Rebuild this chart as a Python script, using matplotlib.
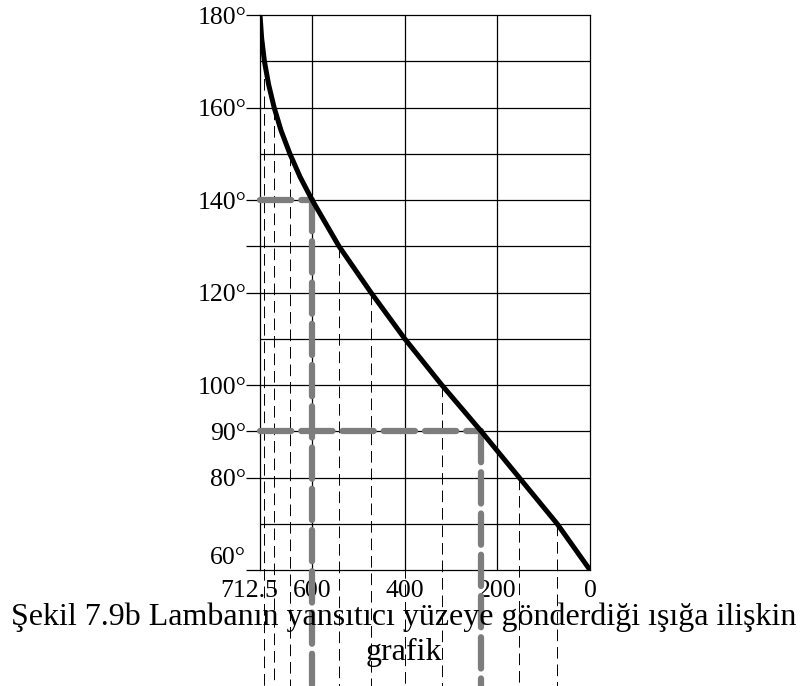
import numpy as np
import matplotlib.pyplot as plt
import matplotlib.transforms as mtransforms

# Curve (angle in degrees -> value on reversed x axis)
angles = [180, 175, 170, 165, 160, 155, 150, 145, 140, 130, 120, 110, 100, 90, 80, 70, 60]
values = [712.5, 709, 703, 694, 682, 667, 648, 626, 600, 542, 473, 400, 320, 235, 153, 71, 0]

# Thin dashed drop lines (at every 10 degrees on the curve)
drop_angles = [170, 160, 150, 130, 120, 110, 100, 80, 70]
drop_values = [703, 682, 648, 542, 473, 400, 320, 153, 71]

# Highlighted readings (thick grey dashed)
mark_angles = [140, 90]
mark_values = [600, 235]

y_ticks = [180, 160, 140, 130, 120, 100, 90, 80, 60]
y_labels = ['180°', '160°', '140°', '', '120°', '100°', '90°', '80°', '60°']
x_ticks = [712.5, 600, 400, 200, 0]
x_labels = ['712.5', '600', '400', '200', '0']

plt.rcParams['font.family'] = ['Liberation Serif', 'DejaVu Serif']

fig = plt.figure(figsize=(8.08, 6.86), dpi=100)
ax = fig.add_axes([0.3218, 0.1691, 0.4084, 0.8090])

ax.set_xlim(712.5, 0)
ax.set_ylim(60, 180)

# grid
for v in [600, 400, 200]:
    ax.axvline(v, color='black', lw=0.9, zorder=1)
for a in range(70, 180, 10):
    ax.axhline(a, color='black', lw=0.9, zorder=1)

for s in ax.spines.values():
    s.set_linewidth(0.9)

# thin dashed drop lines down to the bottom of the page
for a, v in zip(drop_angles, drop_values):
    ax.plot([v, v], [a, 30], color='black', lw=0.7,
            dashes=(12, 6), clip_on=False, zorder=2)

# thick grey highlighted readings
for a, v in zip(mark_angles, mark_values):
    ax.plot([712.5, v], [a, a], color='#7d7d7d', lw=4.5,
            dashes=(5, 1.6), solid_capstyle='round', dash_capstyle='round',
            clip_on=False, zorder=3)
    ax.plot([v, v], [a, 30], color='#7d7d7d', lw=4.5,
            dashes=(5, 1.6), dash_capstyle='round', clip_on=False, zorder=3)

# main curve
ax.plot(values, angles, color='black', lw=3.6, solid_capstyle='round',
        solid_joinstyle='round', zorder=4)

ax.set_yticks(y_ticks)
ax.set_yticklabels(y_labels, fontsize=18.5)
ax.tick_params(axis='y', length=10, width=0.9, pad=0)
ax.set_xticks(x_ticks)
ax.set_xticklabels(x_labels, fontsize=18.5)
ax.tick_params(axis='x', length=0, pad=7)

off = mtransforms.ScaledTranslation(-0.11, 0, fig.dpi_scale_trans)
lab = ax.get_xticklabels()[0]
lab.set_transform(lab.get_transform() + off)

# the 60° label sits a little above its line
up = mtransforms.ScaledTranslation(0, 0.14, fig.dpi_scale_trans)
lab60 = ax.get_yticklabels()[-1]
lab60.set_transform(lab60.get_transform() + up)

fig.text(0.5, 0.100, 'Şekil 7.9b Lambanın yansıtıcı yüzeye gönderdiği ışığa ilişkin',
         ha='center', va='center', fontsize=23)
fig.text(0.5, 0.049, 'grafik', ha='center', va='center', fontsize=23)

fig.savefig('out.png', dpi=100)
